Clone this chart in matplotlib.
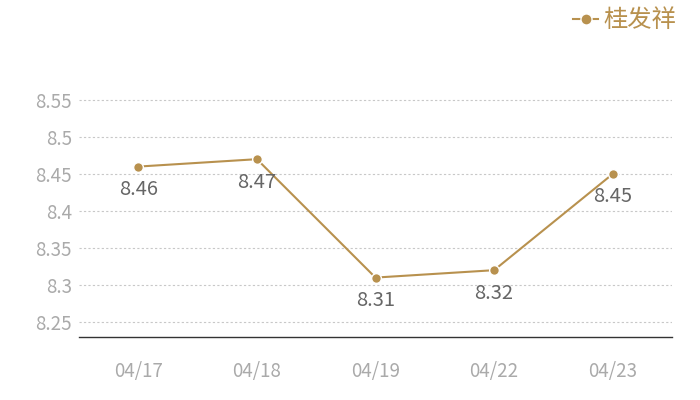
import matplotlib
matplotlib.use('Agg')
import matplotlib.pyplot as plt
from matplotlib.lines import Line2D

plt.rcParams['font.family'] = ['Noto Sans CJK SC', 'DejaVu Sans']

dates = ['04/17', '04/18', '04/19', '04/22', '04/23']
prices = [8.46, 8.47, 8.31, 8.32, 8.45]
yticks = [8.25, 8.3, 8.35, 8.4, 8.45, 8.5, 8.55]
yticklabels = ['8.25', '8.3', '8.35', '8.4', '8.45', '8.5', '8.55']
series_name = '桂发祥'

gold = '#b8914e'

fig = plt.figure(figsize=(7, 4), dpi=100)
ax = fig.add_axes([79 / 700, 63 / 400, 593 / 700, 0.6018])

x = list(range(len(dates)))
ax.plot(x, prices, color=gold, lw=1.5, marker='o', ms=7,
        markerfacecolor=gold, markeredgecolor='white', markeredgewidth=1, zorder=3)

for xi, v in zip(x, prices):
    ax.annotate(f'{v:g}', (xi, v), xytext=(0, -16.5), textcoords='offset points',
                ha='center', va='center', fontsize=14.5, color='#666666')

ax.set_xlim(-0.5, len(dates) - 0.5)
ax.set_ylim(8.2297, 8.555)
ax.set_xticks(x)
ax.set_xticklabels(dates)
ax.set_yticks(yticks)
ax.set_yticklabels(yticklabels)
ax.tick_params(axis='both', length=0, labelsize=13.5, labelcolor='#aaaaaa')
ax.tick_params(axis='x', pad=17)
ax.tick_params(axis='y', pad=5)
ax.grid(axis='y', linestyle=(0, (2, 2)), color='#c8c8c8', lw=0.8)
ax.set_axisbelow(True)
for s in ['top', 'right', 'left']:
    ax.spines[s].set_visible(False)
ax.spines['bottom'].set_color('#333333')
ax.spines['bottom'].set_linewidth(1)

handle = Line2D([], [], color=gold, lw=1.5, marker='o', ms=8,
                markerfacecolor=gold, markeredgecolor='white')
leg = fig.legend([handle], [series_name], loc='upper right', bbox_to_anchor=(0.997, 1.036),
                 frameon=False, fontsize=17.5, handlelength=1.05, handletextpad=0.2)
for t in leg.get_texts():
    t.set_color(gold)

fig.savefig('out.png', dpi=100)
